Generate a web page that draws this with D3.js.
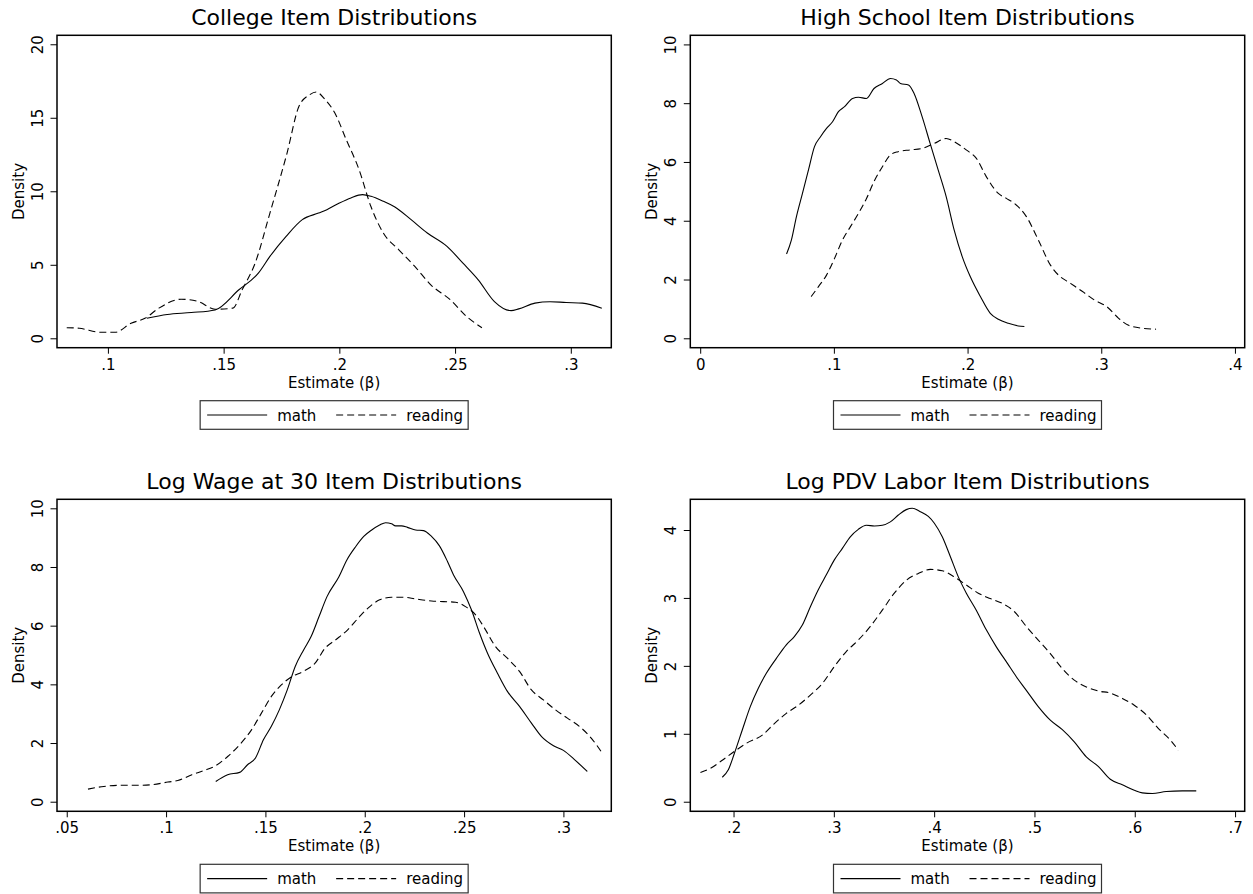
<!DOCTYPE html>
<html><head><meta charset="utf-8">
<script src="https://cdn.jsdelivr.net/npm/d3@7/dist/d3.min.js"></script>
<style>
body{margin:0;background:#fff}
svg{display:block}
text{font-family:"DejaVu Sans",sans-serif;fill:#000}
</style>
</head><body>
<svg id="chart" width="1253" height="894"></svg>
<script>
// ---------- DATA ----------
const titles = ["College Item Distributions","High School Item Distributions","Log Wage at 30 Item Distributions","Log PDV Labor Item Distributions"];
const seriesNames = ["math","reading"];
const xAxisTitle = "Estimate (\u03B2)";
const yAxisTitle = "Density";

const collegeXTicks = [0.1,0.15,0.2,0.25,0.3];
const collegeXLabels = [".1",".15",".2",".25",".3"];
const collegeYTicks = [0,5,10,15,20];
const hsXTicks = [0,0.1,0.2,0.3,0.4];
const hsXLabels = ["0",".1",".2",".3",".4"];
const hsYTicks = [0,2,4,6,8,10];
const wageXTicks = [0.05,0.1,0.15,0.2,0.25,0.3];
const wageXLabels = [".05",".1",".15",".2",".25",".3"];
const wageYTicks = [0,2,4,6,8,10];
const pdvXTicks = [0.2,0.3,0.4,0.5,0.6,0.7];
const pdvXLabels = [".2",".3",".4",".5",".6",".7"];
const pdvYTicks = [0,1,2,3,4];

const collegeMath = [[0.1168,1.36],[0.1256,1.62],[0.136,1.75],[0.1463,1.93],[0.1566,3.3],[0.165,4.43],[0.170,5.57],[0.177,6.93],[0.184,8.07],[0.191,8.52],[0.1946,8.75],[0.200,9.2],[0.205,9.55],[0.210,9.77],[0.2137,9.66],[0.219,9.32],[0.224,8.93],[0.231,8.07],[0.238,7.16],[0.2465,6.25],[0.2534,5.11],[0.260,3.98],[0.267,2.5],[0.2742,1.88],[0.2775,2.0],[0.2845,2.39],[0.291,2.49],[0.298,2.43],[0.305,2.39],[0.3134,2.04]];
const collegeReading = [[0.0822,0.72],[0.0876,0.68],[0.097,0.41],[0.1031,0.41],[0.110,1.02],[0.116,1.36],[0.122,2.05],[0.1316,2.66],[0.139,2.5],[0.1463,1.98],[0.154,2.05],[0.158,3.3],[0.1636,5.11],[0.170,8.52],[0.1774,12.6],[0.1826,15.8],[0.187,16.55],[0.190,16.75],[0.1938,16.25],[0.198,15.34],[0.203,13.5],[0.2085,11.48],[0.2136,8.98],[0.219,7.16],[0.2257,6.02],[0.2326,4.89],[0.2395,3.64],[0.248,2.61],[0.255,1.48],[0.2616,0.72]];

const hsMath = [[0.0646,2.87],[0.0682,3.34],[0.072,4.14],[0.0765,4.93],[0.081,5.73],[0.0855,6.52],[0.090,6.86],[0.0945,7.14],[0.099,7.37],[0.1034,7.71],[0.108,7.88],[0.114,8.16],[0.1184,8.2],[0.1244,8.16],[0.130,8.5],[0.1363,8.67],[0.1423,8.84],[0.1468,8.79],[0.1498,8.67],[0.1558,8.62],[0.160,8.33],[0.166,7.54],[0.172,6.63],[0.178,5.73],[0.184,4.82],[0.190,3.68],[0.196,2.78],[0.202,2.1],[0.2096,1.42],[0.217,0.85],[0.223,0.65],[0.2305,0.51],[0.238,0.42],[0.2425,0.40]];
const hsReading = [[0.083,1.42],[0.0885,1.76],[0.0945,2.15],[0.1005,2.72],[0.1064,3.34],[0.1124,3.8],[0.1184,4.25],[0.1244,4.76],[0.130,5.33],[0.1363,5.84],[0.1423,6.24],[0.148,6.35],[0.157,6.41],[0.166,6.46],[0.175,6.63],[0.184,6.8],[0.190,6.69],[0.199,6.41],[0.2066,6.12],[0.214,5.5],[0.223,4.93],[0.229,4.76],[0.235,4.59],[0.244,4.14],[0.253,3.34],[0.262,2.49],[0.268,2.15],[0.277,1.87],[0.286,1.59],[0.295,1.3],[0.304,1.08],[0.313,0.68],[0.320,0.45],[0.331,0.34],[0.341,0.31]];

const wageMath = [[0.125,0.69],[0.131,0.92],[0.137,1.0],[0.141,1.26],[0.145,1.49],[0.149,2.11],[0.153,2.57],[0.157,3.13],[0.161,3.81],[0.165,4.61],[0.1693,5.18],[0.173,5.63],[0.177,6.31],[0.181,6.99],[0.187,7.67],[0.191,8.24],[0.1954,8.69],[0.1995,9.04],[0.2035,9.26],[0.2075,9.43],[0.2105,9.51],[0.2135,9.47],[0.2155,9.4],[0.2185,9.4],[0.2215,9.35],[0.2256,9.26],[0.2296,9.24],[0.2336,9.04],[0.2376,8.72],[0.2417,8.18],[0.2447,7.73],[0.2497,7.16],[0.2537,6.54],[0.2578,5.74],[0.2618,5.06],[0.2668,4.38],[0.2718,3.76],[0.2779,3.25],[0.2839,2.68],[0.289,2.22],[0.295,1.91],[0.300,1.75],[0.306,1.41],[0.312,1.03]];
const wageReading = [[0.0607,0.43],[0.0687,0.52],[0.0767,0.56],[0.0868,0.56],[0.0928,0.58],[0.1009,0.67],[0.1059,0.72],[0.113,0.92],[0.119,1.06],[0.125,1.23],[0.131,1.54],[0.137,1.94],[0.143,2.45],[0.148,3.02],[0.153,3.59],[0.158,3.98],[0.163,4.25],[0.169,4.44],[0.175,4.72],[0.180,5.23],[0.1854,5.52],[0.1914,5.86],[0.1974,6.31],[0.2015,6.59],[0.2075,6.88],[0.2135,6.97],[0.2196,6.97],[0.2256,6.91],[0.2336,6.84],[0.2397,6.82],[0.2457,6.8],[0.2507,6.65],[0.2558,6.37],[0.2598,5.97],[0.2658,5.29],[0.2718,4.89],[0.2779,4.44],[0.2839,3.81],[0.2899,3.47],[0.296,3.13],[0.302,2.85],[0.308,2.57],[0.314,2.17],[0.319,1.71]];

const pdvMath = [[0.1888,0.36],[0.1948,0.47],[0.2008,0.71],[0.2088,1.06],[0.2167,1.40],[0.2247,1.67],[0.2327,1.89],[0.2427,2.11],[0.2526,2.31],[0.2606,2.43],[0.2686,2.6],[0.2766,2.87],[0.2845,3.12],[0.2925,3.34],[0.3005,3.56],[0.3085,3.73],[0.3164,3.9],[0.3244,4.01],[0.3324,4.07],[0.3404,4.06],[0.3483,4.07],[0.3563,4.12],[0.3643,4.22],[0.3722,4.3],[0.3782,4.32],[0.3862,4.27],[0.3942,4.2],[0.4002,4.1],[0.4081,3.9],[0.4161,3.61],[0.4241,3.31],[0.4321,3.07],[0.442,2.82],[0.452,2.53],[0.462,2.28],[0.4729,2.04],[0.4819,1.84],[0.4919,1.64],[0.5038,1.40],[0.5158,1.20],[0.5278,1.06],[0.5397,0.88],[0.5517,0.66],[0.5636,0.52],[0.5756,0.33],[0.5876,0.25],[0.5995,0.17],[0.6075,0.13],[0.6175,0.12],[0.6314,0.15],[0.6474,0.16],[0.6613,0.16]];
const pdvReading = [[0.167,0.43],[0.1769,0.49],[0.1888,0.61],[0.2008,0.74],[0.2128,0.86],[0.2287,0.98],[0.2407,1.15],[0.2526,1.30],[0.2646,1.42],[0.2766,1.57],[0.2885,1.74],[0.3005,1.99],[0.3124,2.21],[0.3244,2.38],[0.3364,2.58],[0.3483,2.82],[0.3603,3.07],[0.3722,3.26],[0.3842,3.36],[0.3962,3.42],[0.4081,3.40],[0.4201,3.31],[0.4321,3.19],[0.444,3.07],[0.456,2.99],[0.4679,2.92],[0.4799,2.80],[0.4919,2.58],[0.5038,2.38],[0.5158,2.18],[0.5278,1.96],[0.5397,1.79],[0.5517,1.69],[0.5636,1.63],[0.5756,1.6],[0.5876,1.52],[0.5995,1.42],[0.6115,1.28],[0.6234,1.08],[0.6354,0.91],[0.6434,0.76]];

// ---------- LAYOUT ----------
const panels = [
  {title:titles[0], series:[collegeMath,collegeReading], xDomain:[0.0780,0.3175], yDomain:[-0.64,20.61], xTicks:collegeXTicks, xLabels:collegeXLabels, yTicks:collegeYTicks, box:[57,35.3,611.3,347.7]},
  {title:titles[1], series:[hsMath,hsReading], xDomain:[-0.0074,0.4073], yDomain:[-0.32,10.31], xTicks:hsXTicks, xLabels:hsXLabels, yTicks:hsYTicks, box:[690.3,35.3,1244.7,347.7]},
  {title:titles[2], series:[wageMath,wageReading], xDomain:[0.0451,0.3241], yDomain:[-0.327,10.307], xTicks:wageXTicks, xLabels:wageXLabels, yTicks:wageYTicks, box:[57,499.3,611.3,811.3]},
  {title:titles[3], series:[pdvMath,pdvReading], xDomain:[0.1569,0.7096], yDomain:[-0.141,4.452], xTicks:pdvXTicks, xLabels:pdvXLabels, yTicks:pdvYTicks, box:[690.3,499.3,1244.7,811.3]}
];
const dashes = [null,"7,4"];

const svg = d3.select("#chart");
svg.append("rect").attr("width",1253).attr("height",894).attr("fill","#fff");

panels.forEach(p => {
  const [x0,y0,x1,y1] = p.box;
  const cx = (x0+x1)/2, cy = (y0+y1)/2;
  const x = d3.scaleLinear().domain(p.xDomain).range([x0,x1]);
  const y = d3.scaleLinear().domain(p.yDomain).range([y1,y0]);
  const g = svg.append("g");

  // title
  g.append("text").attr("x",cx).attr("y",y0-10).attr("text-anchor","middle")
    .attr("font-size",22).text(p.title);

  // curves
  const line = d3.line().x(d=>x(d[0])).y(d=>y(d[1])).curve(d3.curveMonotoneX);
  p.series.forEach((s,i) => {
    g.append("path").datum(s).attr("d",line).attr("fill","none")
      .attr("stroke","#000").attr("stroke-width",1.1)
      .attr("stroke-dasharray",dashes[i]);
  });

  // box
  g.append("rect").attr("x",x0).attr("y",y0).attr("width",x1-x0).attr("height",y1-y0)
    .attr("fill","none").attr("stroke","#000").attr("stroke-width",1.5);

  // y axis
  const ya = g.append("g").attr("transform",`translate(${x0},0)`)
    .call(d3.axisLeft(y).tickValues(p.yTicks).tickSize(6.5).tickFormat(d3.format("d")));
  ya.select(".domain").remove();
  ya.selectAll(".tick line").attr("stroke","#000").attr("stroke-width",1);
  ya.selectAll(".tick text").attr("transform","rotate(-90)").attr("x",0).attr("y",-14)
    .attr("dy",0).attr("text-anchor","middle").attr("font-size",15)
    .attr("font-family","DejaVu Sans").attr("fill","#000");

  // x axis
  const xa = g.append("g").attr("transform",`translate(0,${y1})`)
    .call(d3.axisBottom(x).tickValues(p.xTicks).tickSize(6).tickFormat((d,i)=>p.xLabels[i]));
  xa.select(".domain").remove();
  xa.selectAll(".tick line").attr("stroke","#000").attr("stroke-width",1);
  xa.selectAll(".tick text").attr("y",22).attr("dy",0).attr("font-size",15)
    .attr("font-family","DejaVu Sans").attr("fill","#000");

  // axis titles
  g.append("text").attr("x",cx).attr("y",y1+40).attr("text-anchor","middle")
    .attr("font-size",15).text(xAxisTitle);
  g.append("text").attr("transform",`translate(${x0-33},${cy}) rotate(-90)`)
    .attr("text-anchor","middle").attr("font-size",15).text(yAxisTitle);

  // legend
  const ly0 = y1+53, ly1 = y1+81.6, lmid = (ly0+ly1)/2;
  g.append("rect").attr("x",cx-134).attr("y",ly0).attr("width",268).attr("height",ly1-ly0)
    .attr("fill","#fff").attr("stroke","#333").attr("stroke-width",1.2);
  const items = [{x:cx-127},{x:cx+2}];
  items.forEach((it,i) => {
    g.append("line").attr("x1",it.x).attr("x2",it.x+60).attr("y1",lmid).attr("y2",lmid)
      .attr("stroke","#000").attr("stroke-width",1.1).attr("stroke-dasharray",dashes[i]);
    g.append("text").attr("x",it.x+70).attr("y",lmid+5.5).attr("font-size",15).text(seriesNames[i]);
  });
});
</script>
</body></html>
